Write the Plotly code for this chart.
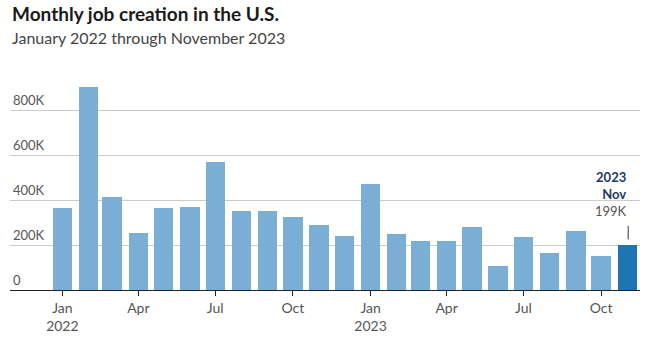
import plotly.graph_objects as go
import pandas as pd

months = pd.date_range("2022-01-01", "2023-11-01", freq="MS").strftime("%Y-%m-%d").tolist()
jobs_k = [364, 904, 413, 253, 364, 368, 569, 351, 351, 324, 288, 239,
          471, 248, 217, 217, 279, 105, 235, 163, 262, 150, 199]

tick_vals = ["2022-01-01", "2022-04-01", "2022-07-01", "2022-10-01",
             "2023-01-01", "2023-04-01", "2023-07-01", "2023-10-01"]
tick_text = ["Jan<br>2022", "Apr", "Jul", "Oct", "Jan<br>2023", "Apr", "Jul", "Oct"]
y_ticks = [0, 200, 400, 600, 800]
y_text = ["0", "200K", "400K", "600K", "800K"]

LIGHT = "#7aaed4"
DARK = "#1f74b3"
colors = [LIGHT] * (len(jobs_k) - 1) + [DARK]

FONT = "Lato"

fig = go.Figure()
fig.add_trace(go.Bar(
    x=months, y=jobs_k, marker=dict(color=colors, line=dict(width=0)),
    width=23 * 86400000, hoverinfo="x+y",
))

fig.update_layout(
    width=652, height=343,
    margin=dict(l=10, r=12, t=65, b=53),
    paper_bgcolor="white", plot_bgcolor="white",
    font=dict(family=FONT, color="#555"),
    showlegend=False,
    bargap=0,
)
fig.update_xaxes(
    type="date", range=["2021-10-31", "2023-11-16"],
    tickvals=tick_vals, ticktext=tick_text,
    showline=True, linecolor="#222", linewidth=1,
    ticks="outside", ticklen=5, tickcolor="#222",
    showgrid=False, zeroline=False,
    tickfont=dict(size=14, color="#555", family=FONT),
)
fig.update_yaxes(
    range=[0, 1000], tickvals=y_ticks, ticktext=y_text,
    ticklabelposition="inside top",
    showgrid=True, gridcolor="#cccccc", gridwidth=1,
    zeroline=False, showline=False,
    tickfont=dict(size=13, color="#555", family=FONT),
)

# title and subtitle
fig.add_annotation(
    xref="paper", yref="paper", x=0, y=1.231, xanchor="left", yanchor="middle",
    text="<b>Monthly job creation in the U.S.</b>", showarrow=False,
    font=dict(size=19, color="#1a1a1a", family=FONT),
)
fig.add_annotation(
    xref="paper", yref="paper", x=0, y=1.12, xanchor="left", yanchor="middle",
    text="January 2022 through November 2023", showarrow=False,
    font=dict(size=16, color="#444", family=FONT),
)

# last-bar callout
fig.add_annotation(
    x=months[-1], y=287, xref="x", yref="y", xanchor="right", yanchor="bottom",
    xshift=2, yshift=4, align="right",
    text="<span style='color:#1c3a63'><b>2023</b></span><br>"
         "<span style='color:#1c3a63'><b>Nov</b></span><br>"
         "<span style='color:#555'>%dK</span>" % jobs_k[-1],
    showarrow=False, font=dict(size=13, family=FONT),
)
fig.add_shape(
    type="line", xref="x", yref="y",
    x0="2023-11-02", x1="2023-11-02", y0=225, y1=285,
    line=dict(color="#333", width=1),
)

fig.write_html("out.html")
